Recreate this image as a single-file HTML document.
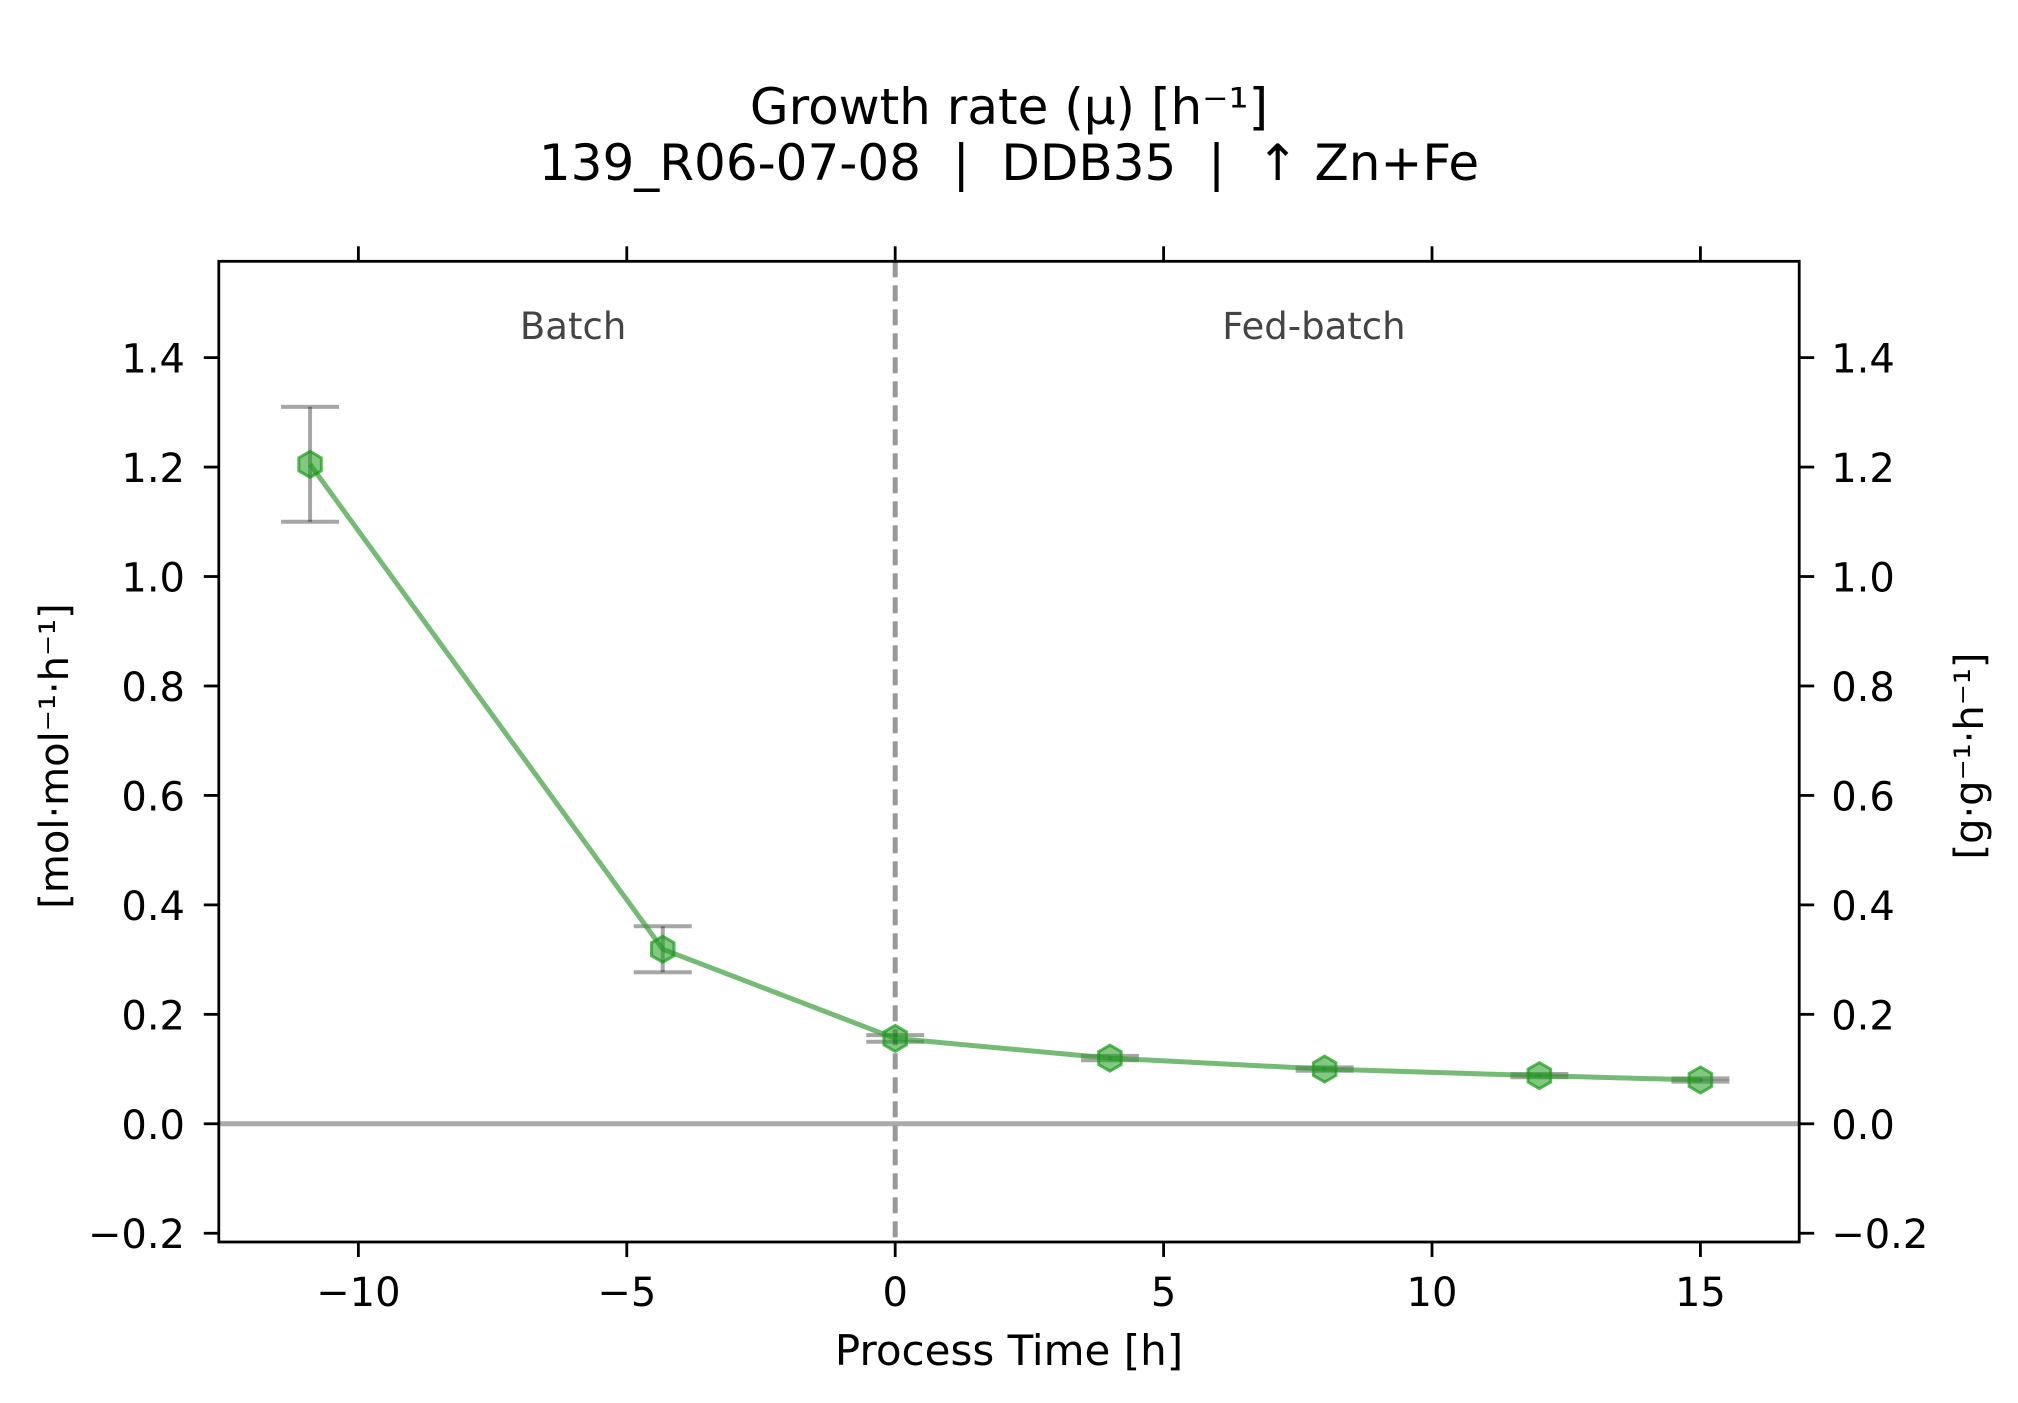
<!DOCTYPE html>
<html><head><meta charset="utf-8"><style>
html,body{margin:0;padding:0;background:#fff;}
svg{display:block;font-family:"DejaVu Sans","Liberation Sans",sans-serif;}
text{white-space:pre;}
</style></head><body>
<svg id="chart" width="2018" height="1403" viewBox="0 0 2018 1403">
<text x="1009" y="124" font-size="50" text-anchor="middle" xml:space="preserve">Growth rate (μ) [h⁻¹]</text>
<text x="1009" y="180" font-size="50" text-anchor="middle" xml:space="preserve">139_R06-07-08  |  DDB35  |  ↑ Zn+Fe</text>
<g id="plot"></g>
</svg>
<script>
const times = [-10.9, -4.33, 0, 4, 8, 12, 15];
const rates = [1.205, 0.319, 0.156, 0.12, 0.1, 0.088, 0.08];
const rateErr = [0.105, 0.042, 0.006, 0.004, 0.003, 0.003, 0.003];
const xTicks = [-10, -5, 0, 5, 10, 15];
const yTicks = [-0.2, 0, 0.2, 0.4, 0.6, 0.8, 1.0, 1.2, 1.4];
const phaseLabels = ["Batch", "Fed-batch"];
const phaseX = [-6.0, 7.8];

const L=218.8,R=1799.2,T=261.3,B=1242;
const xMin=-12.6,xMax=16.84,yMin=-0.216,yMax=1.576;
const xs=v=>L+(v-xMin)/(xMax-xMin)*(R-L);
const ys=v=>B-(v-yMin)/(yMax-yMin)*(B-T);
const NS='http://www.w3.org/2000/svg';
const g=document.getElementById('plot');
function mk(tag,attrs,parent){const e=document.createElementNS(NS,tag);for(const k in attrs)e.setAttribute(k,attrs[k]);(parent||g).appendChild(e);return e;}
const fmt=v=>(v<0?'−':'')+Math.abs(v).toFixed(1);

let e;
e=mk('line',{x1:L,x2:R,y1:ys(0),y2:ys(0),stroke:'#aaaaaa','stroke-width':5});


e=mk('line',{x1:xs(0),x2:xs(0),y1:T,y2:B,stroke:'#999','stroke-width':5,'stroke-dasharray':'16 8'});


phaseLabels.forEach((p,i)=>{
  e=mk('text',{x:xs(phaseX[i]),y:339,'font-size':37,'text-anchor':'middle',fill:'#444'});
  e.textContent=p;
  
  
});
times.forEach((t,i)=>{
  const x=xs(t),y1=ys(rates[i]-rateErr[i]),y2=ys(rates[i]+rateErr[i]);
  const eg=mk('g',{stroke:'#000','stroke-opacity':0.35,'stroke-width':4});
  
  
  mk('line',{x1:x,x2:x,y1:y1,y2:y2},eg);
  mk('line',{x1:x-29,x2:x+29,y1:y1,y2:y1},eg);
  mk('line',{x1:x-29,x2:x+29,y1:y2,y2:y2},eg);
});
e=mk('polyline',{points:times.map((t,i)=>xs(t)+','+ys(rates[i])).join(' '),fill:'none',stroke:'#3a9e3a','stroke-opacity':0.7,'stroke-width':5,'stroke-linejoin':'round'});


times.forEach((t,i)=>{
  const cx=xs(t),cy=ys(rates[i]),r=13;let pts=[];
  for(let k=0;k<6;k++){const a=Math.PI/2+k*Math.PI/3;pts.push((cx+r*Math.cos(a))+','+(cy-r*Math.sin(a)));}
  e=mk('polygon',{points:pts.join(' '),fill:'#1a9a1a','fill-opacity':0.55,stroke:'#1a9a1a','stroke-opacity':0.7,'stroke-width':3});
  
  
});
e=mk('rect',{x:L,y:T,width:R-L,height:B-T,fill:'none',stroke:'#000','stroke-width':2.8});


xTicks.forEach(v=>{
  const x=xs(v);
  mk('line',{x1:x,x2:x,y1:B,y2:B+15,stroke:'#000','stroke-width':2.8});
  mk('line',{x1:x,x2:x,y1:T,y2:T-15,stroke:'#000','stroke-width':2.8});
  e=mk('text',{x:x,y:1306,'font-size':40,'text-anchor':'middle'});
  e.textContent=(v<0?'−':'')+Math.abs(v);
  
  
});
yTicks.forEach(v=>{
  const y=ys(v);
  mk('line',{x1:L,x2:L-15,y1:y,y2:y,stroke:'#000','stroke-width':2.8});
  mk('line',{x1:R,x2:R+15,y1:y,y2:y,stroke:'#000','stroke-width':2.8});
  e=mk('text',{x:185,y:y+15,'font-size':40,'text-anchor':'end'});
  e.textContent=fmt(v);
  
  
  e=mk('text',{x:R+32,y:y+15,'font-size':40,'text-anchor':'start'});
  e.textContent=fmt(v);
  
  
});
e=mk('text',{x:1009,y:1365,'font-size':42,'text-anchor':'middle'});
e.textContent='Process Time [h]';


e=mk('text',{x:0,y:0,'font-size':40,'text-anchor':'middle',transform:'translate(68,756) rotate(-90)'});
e.textContent='[mol·mol⁻¹·h⁻¹]';


e=mk('text',{x:0,y:0,'font-size':40,'text-anchor':'middle',transform:'translate(1983,756) rotate(-90)'});
e.textContent='[g·g⁻¹·h⁻¹]';


</script>
</body></html>
